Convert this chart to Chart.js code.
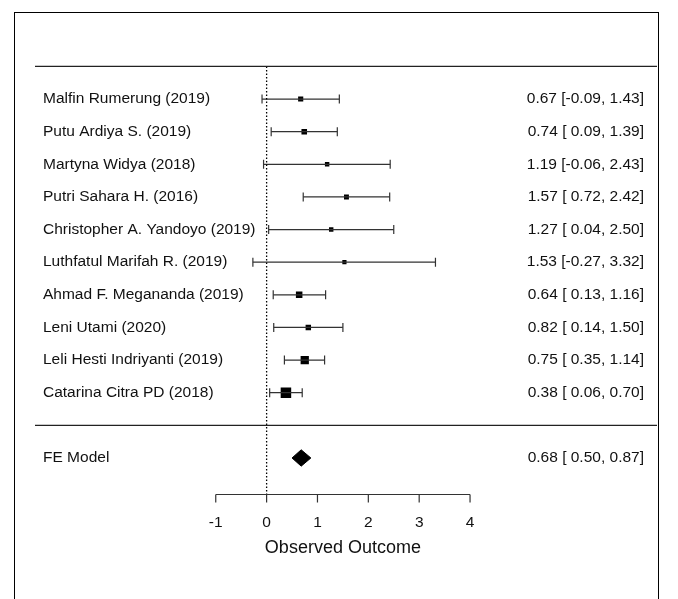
<!DOCTYPE html>
<html>
<head>
<meta charset="utf-8">
<script src="https://cdn.jsdelivr.net/npm/chart.js@4"></script>
<style>
  body { margin: 0; background: #fff; }
  canvas { display: block; }
</style>
</head>
<body>
<canvas id="forest" width="678" height="599"></canvas>
<script>
// study data, top to bottom
const studies = [
  "Malfin Rumerung (2019)",
  "Putu Ardiya S. (2019)",
  "Martyna Widya (2018)",
  "Putri Sahara H. (2016)",
  "Christopher A. Yandoyo (2019)",
  "Luthfatul Marifah R. (2019)",
  "Ahmad F. Megananda (2019)",
  "Leni Utami (2020)",
  "Leli Hesti Indriyanti (2019)",
  "Catarina Citra PD (2018)",
];
const estimate = [0.67, 0.74, 1.19, 1.57, 1.27, 1.53, 0.64, 0.82, 0.75, 0.38];
const lower = [-0.09, 0.09, -0.06, 0.72, 0.04, -0.27, 0.13, 0.14, 0.35, 0.06];
const upper = [1.43, 1.39, 2.43, 2.42, 2.5, 3.32, 1.16, 1.5, 1.14, 0.7];

const summaryLabel = "FE Model";
const summaryEst = 0.68;
const summaryLower = 0.5;
const summaryUpper = 0.87;

const xTicks = [-1, 0, 1, 2, 3, 4];
const xTitle = "Observed Outcome";

// rows: k..1 for studies, 0 separator, -1 summary
const k = studies.length;
const rows = studies.map((s, i) => k - i);

// square size from inverse-variance weight (like metafor)
const wts = lower.map((lb, i) => 1 / Math.pow(upper[i] - lb, 2));
const wMin = Math.min(...wts), wMax = Math.max(...wts);
const sideOf = (i) => 4.2 + 6.3 * (wts[i] - wMin) / (wMax - wMin);

const ciText = (e, lb, ub) =>
  e.toFixed(2) + " [" + (lb < 0 ? "" : " ") + lb.toFixed(2) + ", " + ub.toFixed(2) + "]";

const FONT = '"Liberation Sans", Arial, sans-serif';
const LINE = "#333";

let ciData = [];
rows.forEach((r, i) => {
  ciData.push({ x: lower[i], y: r }, { x: upper[i], y: r }, { x: null, y: null });
});
let capData = [];
rows.forEach((r, i) => {
  capData.push({ x: lower[i], y: r }, { x: upper[i], y: r });
});

const xMin = -4.554, xMax = 7.676;
const yMin = -2.104, yMax = k + 1;
const dh = 0.25;

const forestText = {
  id: "forestText",
  beforeDraw(chart) {
    const c = chart.ctx;
    c.save();
    c.fillStyle = "#fff";
    c.fillRect(0, 0, chart.width, chart.height);
    c.strokeStyle = "#000";
    c.lineWidth = 1;
    c.strokeRect(14.5, 12.5, 644, 620);
    c.restore();
  },
  afterDraw(chart) {
    const c = chart.ctx;
    const xs = chart.scales.x, ys = chart.scales.y;
    const area = chart.chartArea;
    c.save();
    c.fillStyle = "#111";
    c.font = "15.5px " + FONT;
    c.textBaseline = "middle";
    rows.forEach((r, i) => {
      const y = ys.getPixelForValue(r);
      c.textAlign = "left";
      c.fillText(studies[i], area.left + 8, y);
      c.textAlign = "right";
      c.fillText(ciText(estimate[i], lower[i], upper[i]), area.right - 13, y);
    });
    const ySum = ys.getPixelForValue(-1);
    c.textAlign = "left";
    c.fillText(summaryLabel, area.left + 8, ySum);
    c.textAlign = "right";
    c.fillText(ciText(summaryEst, summaryLower, summaryUpper), area.right - 13, ySum);

    // x axis
    const yAx = Math.round(ys.getPixelForValue(yMin)) + 0.5;
    const x0 = xs.getPixelForValue(xTicks[0]);
    const x1 = xs.getPixelForValue(xTicks[xTicks.length - 1]);
    c.strokeStyle = LINE;
    c.lineWidth = 1.2;
    c.beginPath();
    c.moveTo(x0, yAx);
    c.lineTo(x1, yAx);
    xTicks.forEach((t) => {
      const px = xs.getPixelForValue(t);
      c.moveTo(px, yAx);
      c.lineTo(px, yAx + 8);
    });
    c.stroke();
    c.textAlign = "center";
    xTicks.forEach((t) => {
      c.fillText(String(t), xs.getPixelForValue(t), yAx + 28);
    });
    c.font = "18px " + FONT;
    c.fillText(xTitle, (x0 + x1) / 2, yAx + 54);
    c.restore();
  },
};

new Chart(document.getElementById("forest"), {
  type: "scatter",
  data: {
    datasets: [
      {
        // top and separator lines
        type: "line",
        data: [
          { x: xMin, y: yMax }, { x: xMax, y: yMax }, { x: null, y: null },
          { x: xMin, y: 0 }, { x: xMax, y: 0 },
        ],
        borderColor: "#222",
        borderWidth: 1.2,
        pointRadius: 0,
        spanGaps: false,
        clip: false,
      },
      {
        // reference line at 0
        type: "line",
        data: [{ x: 0, y: yMax }, { x: 0, y: yMin }],
        borderColor: "#000",
        borderWidth: 1.3,
        borderDash: [1.5, 2],
        pointRadius: 0,
        clip: false,
      },
      {
        type: "line",
        data: ciData,
        borderColor: LINE,
        borderWidth: 1.2,
        pointRadius: 0,
        spanGaps: false,
      },
      {
        data: capData,
        pointStyle: "line",
        rotation: 90,
        pointRadius: 4.5,
        borderColor: LINE,
        borderWidth: 1.2,
      },
      {
        data: rows.map((r, i) => ({ x: estimate[i], y: r })),
        pointStyle: "rect",
        pointRadius: (ctx) => sideOf(ctx.dataIndex) / Math.SQRT2,
        backgroundColor: "#000",
        borderWidth: 0,
      },
      {
        // summary diamond
        type: "line",
        data: [
          { x: summaryLower, y: -1 },
          { x: summaryEst, y: -1 + dh },
          { x: summaryUpper, y: -1 },
          { x: summaryEst, y: -1 - dh },
          { x: summaryLower, y: -1 },
        ],
        borderColor: "#000",
        backgroundColor: "#000",
        borderWidth: 1,
        fill: "shape",
        tension: 0,
        pointRadius: 0,
      },
    ],
  },
  options: {
    responsive: false,
    animation: false,
    layout: { padding: { left: 35, right: 21, top: 66.4, bottom: 105 } },
    scales: {
      x: { type: "linear", min: xMin, max: xMax, display: false },
      y: { type: "linear", min: yMin, max: yMax, display: false },
    },
    plugins: {
      legend: { display: false },
      tooltip: { enabled: false },
    },
  },
  plugins: [forestText],
});
</script>
</body>
</html>
